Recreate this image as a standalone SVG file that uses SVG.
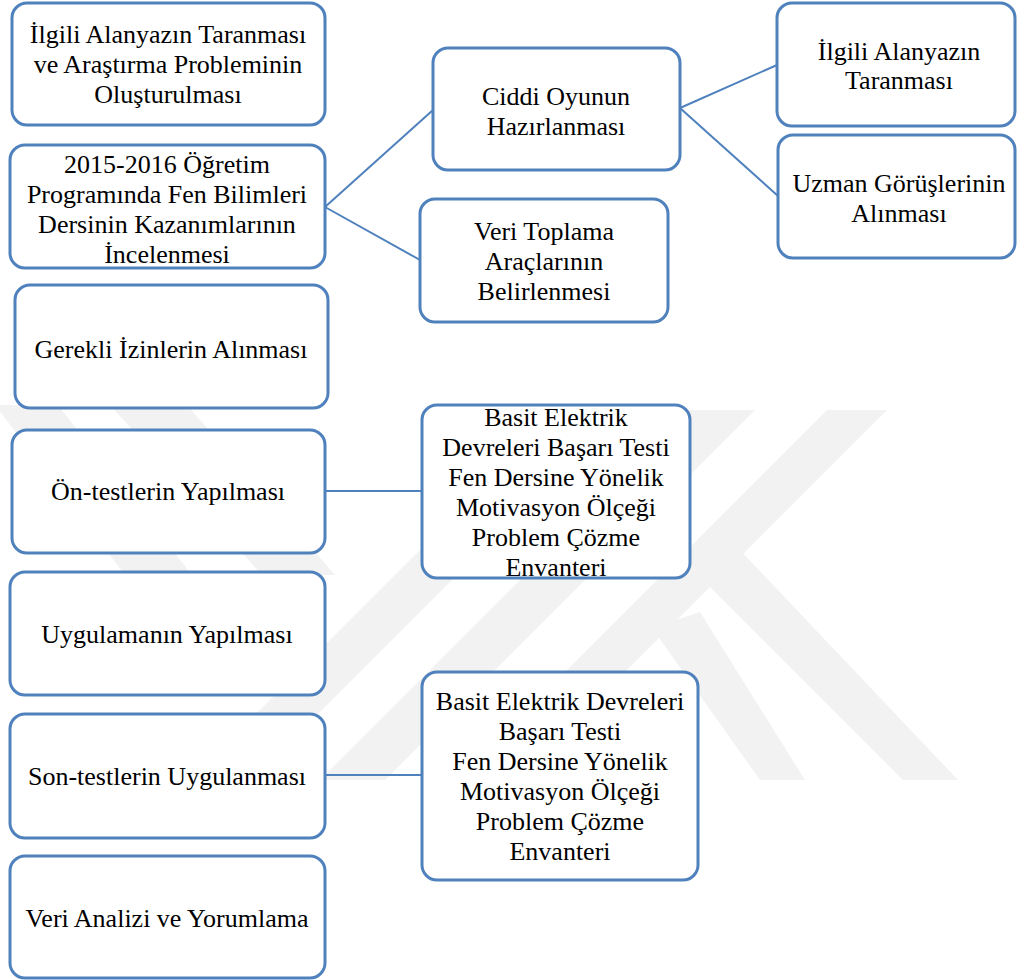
<svg xmlns="http://www.w3.org/2000/svg" width="1020" height="980" viewBox="0 0 1020 980">
<style>
.box{fill:#ffffff;stroke:#4f81bd;stroke-width:3}
.t{font-size:26px;fill:#000000;text-anchor:middle}
.c{stroke:#4f81bd;stroke-width:2;fill:none}
.wm{fill:#f2f2f2}
</style>
<rect width="1020" height="980" fill="#ffffff"/>
<g id="watermark">
<polygon class="wm" points="-5,405 58,405 192,575 125,575"/>
<polygon class="wm" points="110,405 187,405 335,575 262,575"/>
<polygon class="wm" points="560,410 622,410 252,780 190,780"/>
<polygon class="wm" points="690,410 755,410 385,780 320,780"/>
<polygon class="wm" points="827,410 887,410 517,780 457,780"/>
<polygon class="wm" points="652,628 700,612 805,780 760,780"/>
<polygon class="wm" points="686,563 738,548 958,780 903,780"/>
</g>
<g id="connectors">
<line class="c" x1="325" y1="207" x2="433" y2="110"/>
<line class="c" x1="325" y1="207" x2="420" y2="260"/>
<line class="c" x1="680" y1="108" x2="777" y2="65"/>
<line class="c" x1="680" y1="108" x2="778" y2="196"/>
<line class="c" x1="325" y1="491" x2="422" y2="491"/>
<line class="c" x1="325" y1="775" x2="422" y2="775"/>
</g>
<g id="nodes" font-family="Liberation Serif, DejaVu Serif, serif">
<g id="n1"><rect class="box" x="12" y="3" width="313" height="122" rx="15"/>
<text class="t" x="168" y="43">İlgili Alanyazın Taranması</text>
<text class="t" x="168" y="73">ve Araştırma Probleminin</text>
<text class="t" x="168" y="103">Oluşturulması</text></g>
<g id="n2"><rect class="box" x="10" y="145" width="315" height="123" rx="15"/>
<text class="t" x="167" y="173">2015-2016 Öğretim</text>
<text class="t" x="167" y="203">Programında Fen Bilimleri</text>
<text class="t" x="167" y="233">Dersinin Kazanımlarının</text>
<text class="t" x="167" y="263">İncelenmesi</text></g>
<g id="n3"><rect class="box" x="15" y="285" width="313" height="123" rx="15"/>
<text class="t" x="171" y="358">Gerekli İzinlerin Alınması</text></g>
<g id="n4"><rect class="box" x="12" y="430" width="313" height="123" rx="15"/>
<text class="t" x="168" y="500">Ön-testlerin Yapılması</text></g>
<g id="n5"><rect class="box" x="10" y="572" width="315" height="123" rx="15"/>
<text class="t" x="167" y="643">Uygulamanın Yapılması</text></g>
<g id="n6"><rect class="box" x="10" y="714" width="315" height="124" rx="15"/>
<text class="t" x="167" y="785">Son-testlerin Uygulanması</text></g>
<g id="n7"><rect class="box" x="10" y="856" width="315" height="122" rx="15"/>
<text class="t" x="167" y="927">Veri Analizi ve Yorumlama</text></g>
<g id="n8"><rect class="box" x="433" y="48" width="247" height="122" rx="15"/>
<text class="t" x="556" y="105">Ciddi Oyunun</text>
<text class="t" x="556" y="135">Hazırlanması</text></g>
<g id="n9"><rect class="box" x="420" y="199" width="248" height="123" rx="15"/>
<text class="t" x="544" y="240">Veri Toplama</text>
<text class="t" x="544" y="270">Araçlarının</text>
<text class="t" x="544" y="300">Belirlenmesi</text></g>
<g id="n10"><rect class="box" x="777" y="3" width="238" height="123" rx="15"/>
<text class="t" x="899" y="60">İlgili Alanyazın</text>
<text class="t" x="899" y="89">Taranması</text></g>
<g id="n11"><rect class="box" x="778" y="135" width="237" height="123" rx="15"/>
<text class="t" x="899" y="192">Uzman Görüşlerinin</text>
<text class="t" x="899" y="222">Alınması</text></g>
<g id="n12"><rect class="box" x="422" y="405" width="268" height="173" rx="15"/>
<text class="t" x="556" y="426">Basit Elektrik</text>
<text class="t" x="556" y="456">Devreleri Başarı Testi</text>
<text class="t" x="556" y="486">Fen Dersine Yönelik</text>
<text class="t" x="556" y="516">Motivasyon Ölçeği</text>
<text class="t" x="556" y="546">Problem Çözme</text>
<text class="t" x="556" y="576">Envanteri</text></g>
<g id="n13"><rect class="box" x="422" y="672" width="276" height="208" rx="15"/>
<text class="t" x="560" y="710">Basit Elektrik Devreleri</text>
<text class="t" x="560" y="740">Başarı Testi</text>
<text class="t" x="560" y="770">Fen Dersine Yönelik</text>
<text class="t" x="560" y="800">Motivasyon Ölçeği</text>
<text class="t" x="560" y="830">Problem Çözme</text>
<text class="t" x="560" y="860">Envanteri</text></g>
</g>
</svg>
